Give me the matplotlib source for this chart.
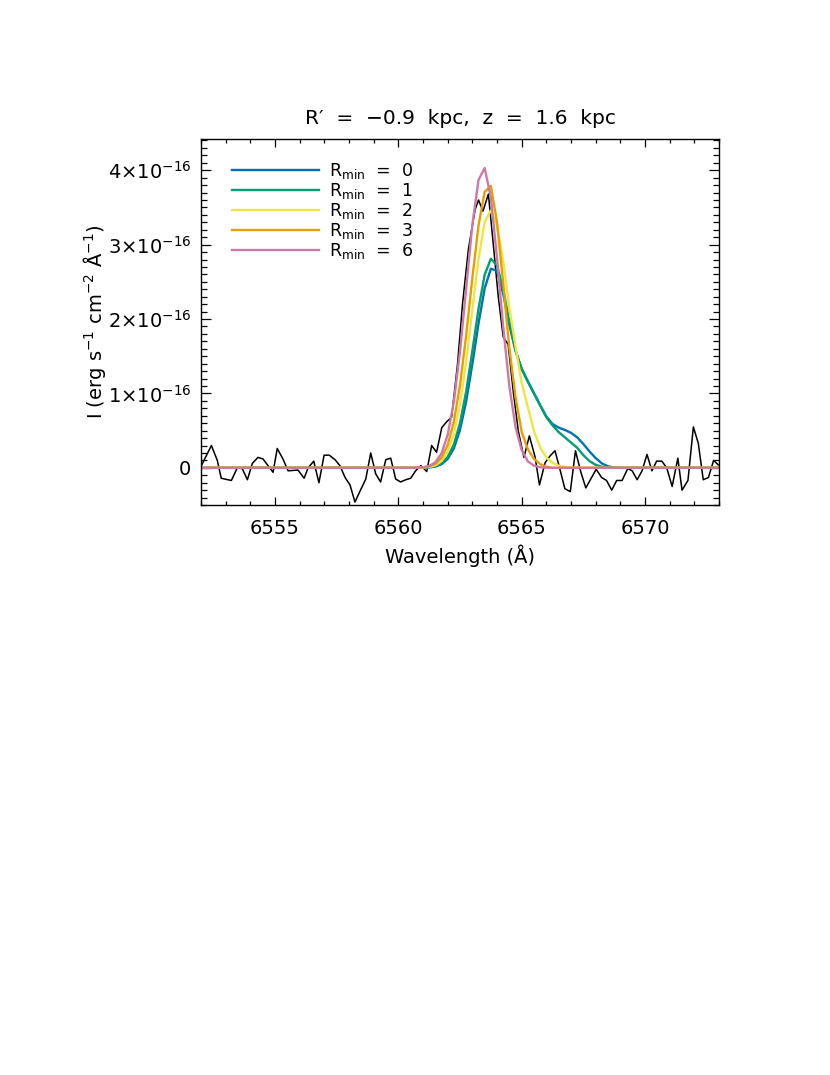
"""
perfil de Halpha: espectro observado vs modelos con distinto Rmin
"""
import numpy as np
import matplotlib
matplotlib.use('Agg')
import matplotlib.pyplot as plt
from matplotlib.ticker import MultipleLocator, FixedLocator

plt.rcParams['font.family'] = 'DejaVu Sans'
plt.rcParams['mathtext.fontset'] = 'dejavusans'

# espectro observado (flujo en unidades de 1e-16)
spec_wave = [6552.00, 6552.42, 6552.66, 6552.82, 6553.23, 6553.47, 6553.67, 6553.88, 6554.08, 6554.31,
             6554.51, 6554.92, 6555.09, 6555.32, 6555.53, 6555.93, 6556.18, 6556.34, 6556.57, 6556.78,
             6556.99, 6557.20, 6557.43, 6557.63, 6557.84, 6558.04, 6558.24, 6558.45, 6558.68, 6558.88,
             6559.08, 6559.28, 6559.49, 6559.69, 6559.89, 6560.09, 6560.30, 6560.50, 6560.70, 6560.91,
             6561.15, 6561.35, 6561.55, 6561.76, 6561.96, 6562.16, 6562.40, 6562.60, 6562.84, 6563.11,
             6563.25, 6563.43, 6563.65, 6563.85, 6564.05, 6564.25, 6564.45, 6564.66, 6564.86, 6565.09,
             6565.31, 6565.54, 6565.72, 6565.95, 6566.15, 6566.35, 6566.55, 6566.75, 6566.97, 6567.18,
             6567.40, 6567.60, 6567.80, 6568.02, 6568.24, 6568.44, 6568.65, 6568.85, 6569.07, 6569.30,
             6569.48, 6569.68, 6569.88, 6570.08, 6570.28, 6570.47, 6570.68, 6570.88, 6571.10, 6571.33,
             6571.50, 6571.74, 6571.96, 6572.16, 6572.36, 6572.57, 6572.78, 6572.97]
spec_flux = [0.02, 0.30, 0.10, -0.14, -0.17, 0.00, -0.01, -0.16, 0.06, 0.14,
             0.12, -0.06, 0.26, 0.12, -0.04, -0.03, -0.14, 0.00, 0.09, -0.20,
             0.17, 0.17, 0.11, 0.03, -0.13, -0.23, -0.46, -0.31, -0.15, 0.20,
             -0.08, -0.19, 0.11, 0.13, -0.15, -0.19, -0.16, -0.14, -0.04, 0.03,
             -0.05, 0.30, 0.21, 0.54, 0.62, 0.68, 1.40, 2.20, 2.94, 3.47,
             3.60, 3.45, 3.68, 3.00, 2.30, 1.76, 1.66, 1.02, 0.50, 0.14,
             0.43, 0.15, -0.23, 0.07, 0.16, 0.23, -0.02, -0.28, -0.32, 0.23,
             -0.06, -0.27, -0.15, -0.02, -0.13, -0.17, -0.30, -0.17, -0.17, -0.01,
             -0.04, -0.16, -0.04, 0.18, -0.04, 0.09, 0.09, 0.00, -0.25, 0.13,
             -0.30, -0.17, 0.55, 0.33, -0.16, -0.13, 0.10, 0.04]

# modelos (mismo eje de longitud de onda para todos)
model_wave = [6552.00, 6560.50, 6560.75, 6561.00, 6561.25, 6561.50, 6561.75, 6562.00, 6562.25, 6562.50,
              6562.75, 6563.00, 6563.25, 6563.50, 6563.75, 6564.00, 6564.25, 6564.50, 6564.75, 6565.00,
              6565.25, 6565.50, 6565.75, 6566.00, 6566.25, 6566.50, 6566.75, 6567.00, 6567.25, 6567.50,
              6567.75, 6568.00, 6568.25, 6568.50, 6568.75, 6569.00, 6573.00]
rmin0 = [0, 0.0, 0.0, 0.002, 0.006, 0.017, 0.048, 0.119, 0.261, 0.511,
         0.895, 1.395, 1.943, 2.414, 2.676, 2.65, 2.34, 1.92, 1.57, 1.33,
         1.16, 1.00, 0.84, 0.69, 0.59, 0.54, 0.51, 0.47, 0.41, 0.32,
         0.22, 0.13, 0.06, 0.02, 0.005, 0.0, 0]
rmin1 = [0, 0.0, 0.001, 0.002, 0.007, 0.023, 0.061, 0.146, 0.314, 0.603,
         1.030, 1.572, 2.140, 2.597, 2.81, 2.72, 2.40, 1.96, 1.58, 1.33,
         1.16, 1.00, 0.84, 0.68, 0.57, 0.48, 0.41, 0.34, 0.27, 0.17,
         0.09, 0.04, 0.015, 0.0, 0.0, 0.0, 0]
rmin2 = [0, 0.0, 0.001, 0.003, 0.011, 0.034, 0.091, 0.216, 0.456, 0.857,
         1.431, 2.128, 2.813, 3.306, 3.46, 3.25, 2.78, 2.15, 1.63, 1.14,
         0.815, 0.489, 0.272, 0.140, 0.067, 0.029, 0.012, 0.004, 0.0, 0.0,
         0.0, 0.0, 0.0, 0.0, 0.0, 0.0, 0]
rmin3 = [0, 0.0, 0.002, 0.006, 0.019, 0.054, 0.136, 0.307, 0.619, 1.112,
         1.784, 2.553, 3.26, 3.71, 3.79, 3.30, 2.48, 1.606, 0.95, 0.48,
         0.25, 0.12, 0.05, 0.015, 0.0, 0.0, 0.0, 0.0, 0.0, 0.0,
         0.0, 0.0, 0.0, 0.0, 0.0, 0.0, 0]
rmin6 = [0, 0.0, 0.002, 0.007, 0.025, 0.075, 0.194, 0.444, 0.890, 1.566,
         2.415, 3.27, 3.87, 4.03, 3.63, 2.82, 1.895, 1.095, 0.547, 0.235,
         0.087, 0.028, 0.008, 0.002, 0.0, 0.0, 0.0, 0.0, 0.0, 0.0,
         0.0, 0.0, 0.0, 0.0, 0.0, 0.0, 0]

modelos = [rmin0, rmin1, rmin2, rmin3, rmin6]
etiquetas = [r'R$_{\rm min}$  =  0', r'R$_{\rm min}$  =  1', r'R$_{\rm min}$  =  2',
             r'R$_{\rm min}$  =  3', r'R$_{\rm min}$  =  6']
colores = ['#0072B2', '#009E73', '#F0E442', '#E69F00', '#CC79A7']

yticks = [0, 1e-16, 2e-16, 3e-16, 4e-16]
yticklabels = ['0', r'1$\times$10$^{-16}$', r'2$\times$10$^{-16}$',
               r'3$\times$10$^{-16}$', r'4$\times$10$^{-16}$']
xticks = [6555, 6560, 6565, 6570]

escala = 1e-16

fig = plt.figure(figsize=(8.3, 10.75), dpi=100)
ax = fig.add_axes([0.2422, 0.5302, 0.6241, 0.3405])

ax.plot(spec_wave, np.array(spec_flux)*escala, color='black', lw=1.1)
for flux, col, lab in zip(modelos, colores, etiquetas):
    ax.plot(model_wave, np.array(flux)*escala, color=col, lw=1.7, label=lab)

ax.set_xlim(6552, 6573)
ax.set_ylim(-0.5e-16, 4.42e-16)

ax.xaxis.set_major_locator(FixedLocator(xticks))
ax.xaxis.set_minor_locator(MultipleLocator(1))
ax.yaxis.set_major_locator(FixedLocator(yticks))
ax.set_yticklabels(yticklabels)
ax.yaxis.set_minor_locator(MultipleLocator(0.1e-16))

ax.tick_params(which='both', direction='in', top=True, right=True, width=0.9)
ax.tick_params(axis='x', which='major', length=6, pad=10, labelsize=14)
ax.tick_params(axis='x', which='minor', length=3.2)
ax.tick_params(axis='y', which='major', length=7.5, pad=7, labelsize=14)
ax.tick_params(axis='y', which='minor', length=4)
for sp in ax.spines.values():
    sp.set_linewidth(1.0)

ax.set_title('R\u2032  =  \u22120.9  kpc,  z  =  1.6  kpc', fontsize=14.5, pad=11)
ax.set_xlabel('Wavelength (\u00c5)', fontsize=14, labelpad=5)
ax.set_ylabel(r'I (erg s$^{-1}$ cm$^{-2}$ $\rm\AA^{-1}$)', fontsize=14, labelpad=0)

ax.legend(loc='upper left', bbox_to_anchor=(0.06, 0.94), frameon=False, fontsize=12.5,
          handlelength=5.0, handletextpad=0.6, labelspacing=0.0, borderpad=0, borderaxespad=0)

plt.savefig('out.png', dpi=100)
